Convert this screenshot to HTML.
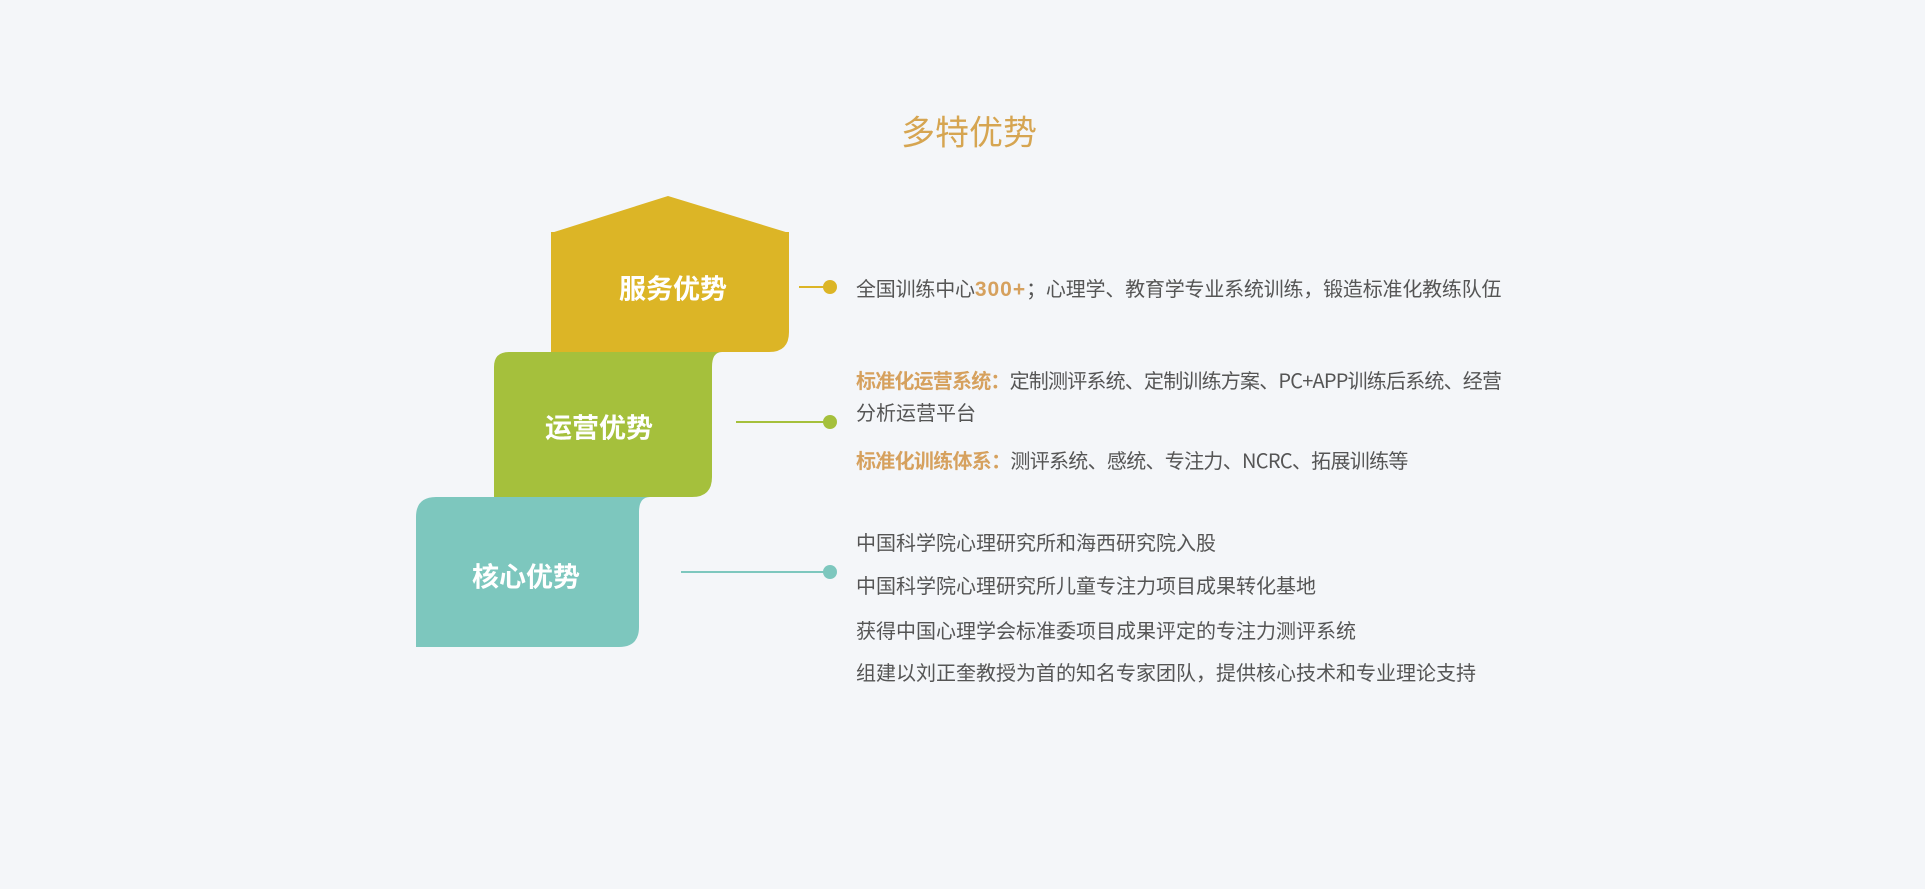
<!DOCTYPE html>
<html><head><meta charset="utf-8"><style>
html,body{margin:0;padding:0;}
body{width:1925px;height:889px;background:#f4f6f9;position:relative;overflow:hidden;font-family:"Noto Sans CJK SC",sans-serif;}
.t{position:absolute;font-size:20px;color:#555;white-space:nowrap;line-height:28px;}
.o{color:#d6a15e;font-weight:bold;}
.n{font-family:"Liberation Sans",sans-serif;font-size:21px;letter-spacing:1px;}
.lab{position:absolute;color:#fff;font-weight:bold;font-size:27px;transform:translate(-50%,-50%);white-space:nowrap;}
</style></head><body>
<div style="position:absolute;left:969px;top:130px;transform:translate(-50%,-50%);font-size:34px;color:#d6a551;">多特优势</div>
<svg width="1925" height="889" style="position:absolute;left:0;top:0">
<polygon points="551,233 668,196 789,233" fill="#dcb526"/>
<path d="M551,232 L789,232 L789,332 Q789,352 769,352 L551,352 Z" fill="#dcb526"/>
<path d="M509,352 L722,352 Q712,352 712,367 L712,477 Q712,497 692,497 L494,497 L494,367 Q494,352 509,352 Z" fill="#a5c03c"/>
<path d="M436,497 L650,497 Q639,497 639,512 L639,627 Q639,647 619,647 L416,647 L416,517 Q416,497 436,497 Z" fill="#7dc7be"/>
<line x1="799" y1="287" x2="830" y2="287" stroke="#dcb526" stroke-width="2"/>
<circle cx="830" cy="287" r="7" fill="#dcb526"/>
<line x1="736" y1="422" x2="830" y2="422" stroke="#a5c03c" stroke-width="2"/>
<circle cx="830" cy="422" r="7" fill="#a5c03c"/>
<line x1="681" y1="572" x2="830" y2="572" stroke="#7dc7be" stroke-width="2"/>
<circle cx="830" cy="572" r="7" fill="#7dc7be"/>
</svg>
<div class="lab" style="left:673px;top:287px">服务优势</div>
<div class="lab" style="left:599px;top:426px">运营优势</div>
<div class="lab" style="left:526px;top:575px">核心优势</div>
<div class="t" style="left:856px;top:274px;letter-spacing:-0.2px">全国训练中心<span class="o n">300+</span>；心理学、教育学专业系统训练，锻造标准化教练队伍</div>
<div class="t" style="left:856px;top:366px;letter-spacing:-0.8px"><span class="o">标准化运营系统：</span>定制测评系统、定制训练方案、PC+APP训练后系统、经营</div>
<div class="t" style="left:856px;top:398px">分析运营平台</div>
<div class="t" style="left:856px;top:446px;letter-spacing:-0.7px"><span class="o">标准化训练体系：</span>测评系统、感统、专注力、NCRC、拓展训练等</div>
<div class="t" style="left:856px;top:528px">中国科学院心理研究所和海西研究院入股</div>
<div class="t" style="left:856px;top:571px">中国科学院心理研究所儿童专注力项目成果转化基地</div>
<div class="t" style="left:856px;top:616px">获得中国心理学会标准委项目成果评定的专注力测评系统</div>
<div class="t" style="left:856px;top:658px">组建以刘正奎教授为首的知名专家团队，提供核心技术和专业理论支持</div>
</body></html>
